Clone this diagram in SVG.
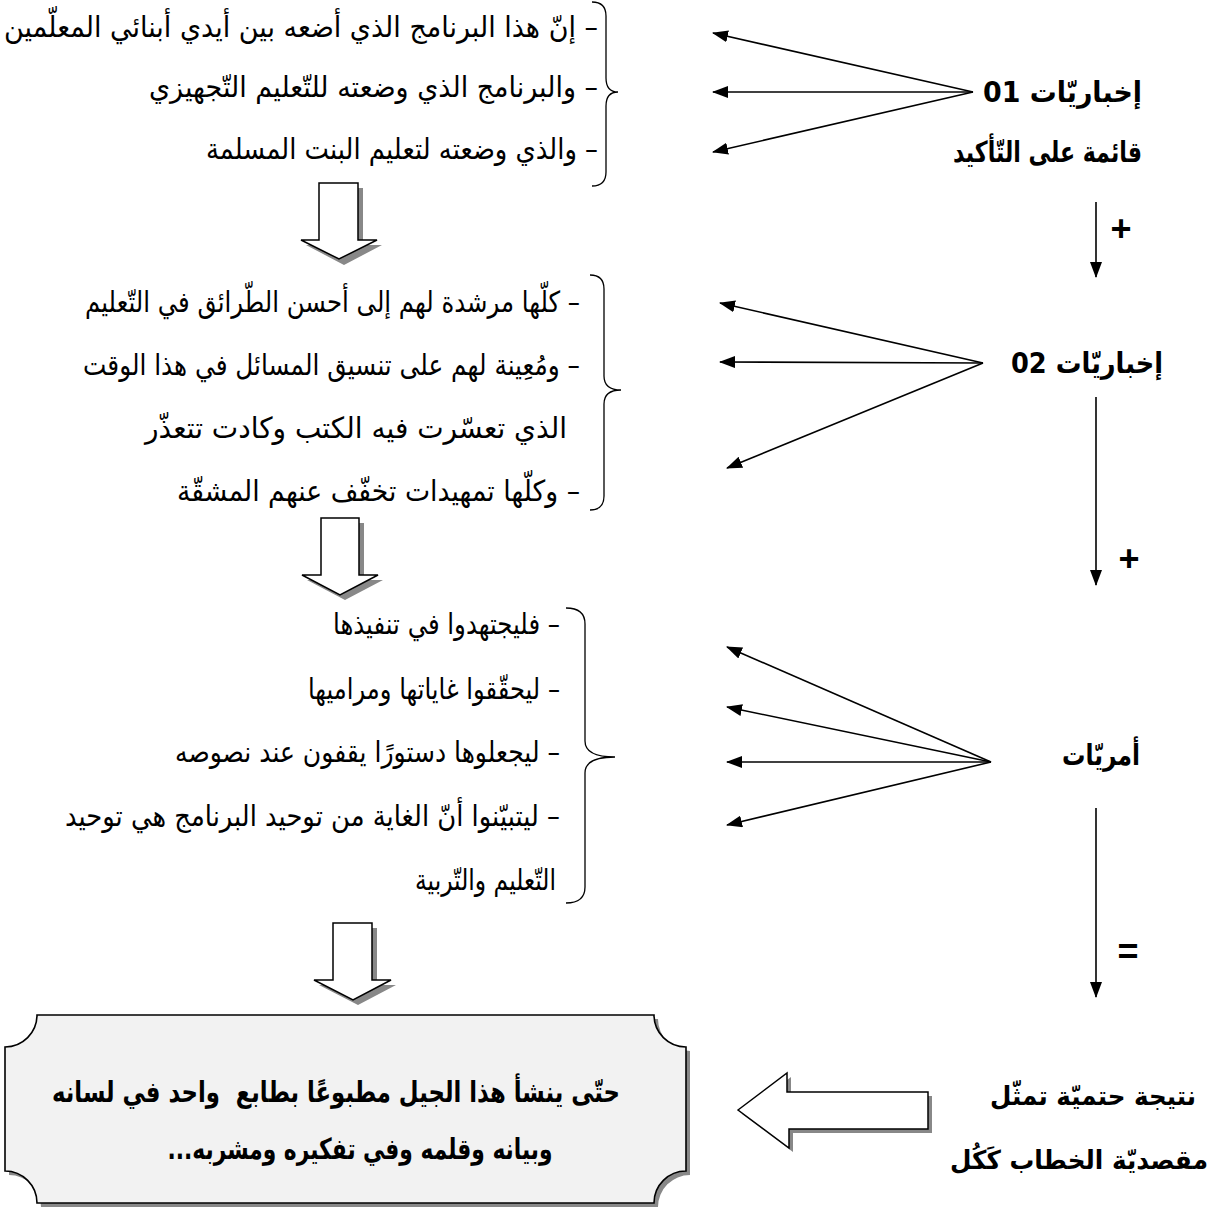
<svg xmlns="http://www.w3.org/2000/svg" width="1220" height="1209" viewBox="0 0 1220 1209">
<defs>
<marker id="ah" viewBox="0 0 16 12" refX="15" refY="6" markerWidth="16" markerHeight="12" markerUnits="userSpaceOnUse" orient="auto">
<path d="M0,0 L16,6 L0,12 Z" fill="#000"/>
</marker>
</defs>
<style>
.t{font-family:"DejaVu Sans",sans-serif;font-size:29px;fill:#000;direction:rtl;text-anchor:start}
.b{font-family:"DejaVu Sans",sans-serif;font-size:29px;font-weight:bold;fill:#000;direction:rtl;text-anchor:start}
.bs{font-family:"DejaVu Sans",sans-serif;font-size:26px;font-weight:bold;fill:#000;direction:rtl;text-anchor:start}
.bc{font-family:"DejaVu Sans",sans-serif;font-size:29px;font-weight:bold;fill:#000;direction:rtl;text-anchor:middle}
.sym{font-family:"Liberation Sans",sans-serif;font-size:36px;font-weight:bold;fill:#000;text-anchor:middle}
.br{fill:none;stroke:#000;stroke-width:1.3}
.ln{fill:none;stroke:#000;stroke-width:1.6;marker-end:url(#ah)}
.sh{fill:#888;stroke:none}
.ba{fill:#fff;stroke:#000;stroke-width:1.5}
</style>
<rect width="1220" height="1209" fill="#fff"/>

<g id="section1">
<text class="t" x="598" y="37" textLength="594" lengthAdjust="spacingAndGlyphs">– إنّ هذا البرنامج الذي أضعه بين أيدي أبنائي المعلّمين</text>
<text class="t" x="598" y="97" textLength="449" lengthAdjust="spacingAndGlyphs">– والبرنامج الذي وضعته للتّعليم التّجهيزي</text>
<text class="t" x="598" y="159" textLength="392" lengthAdjust="spacingAndGlyphs">– والذي وضعته لتعليم البنت المسلمة</text>
<path class="br" d="M592,2 Q606,2 606,16 L606,78 Q606,92 618,92 Q606,92 606,106 L606,172 Q606,186 592,186"/>
</g>

<g id="section2">
<text class="t" x="580" y="312" textLength="495" lengthAdjust="spacingAndGlyphs">– كلّها مرشدة لهم إلى أحسن الطّرائق في التّعليم</text>
<text class="t" x="580" y="375" textLength="497" lengthAdjust="spacingAndGlyphs">– ومُعِينة لهم على تنسيق المسائل في هذا الوقت</text>
<text class="t" x="567" y="438" textLength="422" lengthAdjust="spacingAndGlyphs">الذي تعسّرت فيه الكتب وكادت تتعذّر</text>
<text class="t" x="580" y="501" textLength="403" lengthAdjust="spacingAndGlyphs">– وكلّها تمهيدات تخفّف عنهم المشقّة</text>
<path class="br" d="M590,275 Q604,275 604,289 L604,376 Q604,390 621,390 Q604,390 604,404 L604,496 Q604,510 590,510"/>
</g>

<g id="section3">
<text class="t" x="560" y="634" textLength="227" lengthAdjust="spacingAndGlyphs">– فليجتهدوا في تنفيذها</text>
<text class="t" x="560" y="699" textLength="252" lengthAdjust="spacingAndGlyphs">– ليحقّقوا غاياتها ومراميها</text>
<text class="t" x="560" y="762" textLength="385" lengthAdjust="spacingAndGlyphs">– ليجعلوها دستورًا يقفون عند نصوصه</text>
<text class="t" x="560" y="826" textLength="495" lengthAdjust="spacingAndGlyphs">– ليتبيّنوا أنّ الغاية من توحيد البرنامج هي توحيد</text>
<text class="t" x="556" y="890" textLength="141" lengthAdjust="spacingAndGlyphs">التّعليم والتّربية</text>
<path class="br" d="M566,608 Q585,608 585,624 L585,741 Q585,757 615,757 Q585,757 585,773 L585,887 Q585,903 566,903"/>
</g>

<g id="label-ikhbariyat-01">
<text class="b" x="1142" y="102" textLength="159" lengthAdjust="spacingAndGlyphs">إخباريّات 01</text>
<text class="b" x="1142" y="162" textLength="189" lengthAdjust="spacingAndGlyphs">قائمة على التّأكيد</text>
</g>
<g id="label-ikhbariyat-02">
<text class="b" x="1163" y="373" textLength="152" lengthAdjust="spacingAndGlyphs">إخباريّات 02</text>
</g>
<g id="label-amriyat">
<text class="b" x="1140" y="765" textLength="78" lengthAdjust="spacingAndGlyphs">أمريّات</text>
</g>
<g id="label-result">
<text class="bs" x="1196" y="1105" textLength="206" lengthAdjust="spacingAndGlyphs">نتيجة حتميّة تمثّل</text>
<text class="bs" x="1208" y="1169" textLength="258" lengthAdjust="spacingAndGlyphs">مقصديّة الخطاب كَكُل</text>
</g>

<g id="result-box">
<path class="sh" d="M41,1019 L658,1019 A32,32 0 0 0 690,1051 L690,1175 A32,32 0 0 0 658,1207 L41,1207 A32,32 0 0 0 9,1175 L9,1051 A32,32 0 0 0 41,1019 Z"/>
<path d="M37,1015 L654,1015 A32,32 0 0 0 686,1047 L686,1171 A32,32 0 0 0 654,1203 L37,1203 A32,32 0 0 0 5,1171 L5,1047 A32,32 0 0 0 37,1015 Z" fill="#f2f2f2" stroke="#000" stroke-width="1.6"/>
<text class="bc" x="336" y="1102" textLength="568" lengthAdjust="spacingAndGlyphs" xml:space="preserve">حتّى ينشأ هذا الجيل مطبوعًا بطابع  واحد في لسانه</text>
<text class="bc" x="360" y="1159" textLength="385" lengthAdjust="spacingAndGlyphs">وبيانه وقلمه وفي تفكيره ومشربه...</text>
</g>

<g id="connectors">
<line class="ln" x1="973" y1="92" x2="713" y2="33"/>
<line class="ln" x1="973" y1="92" x2="713" y2="92"/>
<line class="ln" x1="973" y1="92" x2="713" y2="152"/>

<line class="ln" x1="983" y1="363" x2="720" y2="303"/>
<line class="ln" x1="983" y1="363" x2="720" y2="362"/>
<line class="ln" x1="983" y1="363" x2="727" y2="468"/>

<line class="ln" x1="991" y1="762" x2="727" y2="647"/>
<line class="ln" x1="991" y1="762" x2="727" y2="707"/>
<line class="ln" x1="991" y1="762" x2="727" y2="762"/>
<line class="ln" x1="991" y1="762" x2="727" y2="825"/>

<line class="ln" x1="1096" y1="202" x2="1096" y2="277"/>
<line class="ln" x1="1096" y1="397" x2="1096" y2="585"/>
<line class="ln" x1="1096" y1="808" x2="1096" y2="997"/>
<text class="sym" x="1121" y="241">+</text>
<text class="sym" x="1129" y="571">+</text>
<text class="sym" x="1128" y="964">=</text>

<polygon class="sh" points="324,188 363,188 363,245 382,245 344,265 306,245 324,245"/>
<polygon class="ba" points="319,183 358,183 358,240 377,240 339,259 301,240 319,240"/>

<polygon class="sh" points="326,523 364,523 364,580 383,580 345,600 307,580 326,580"/>
<polygon class="ba" points="321,518 359,518 359,575 378,575 340,595 302,575 321,575"/>

<polygon class="sh" points="338,928 377,928 377,985 396,985 358,1005 319,985 338,985"/>
<polygon class="ba" points="333,923 372,923 372,980 391,980 353,1000 314,980 333,980"/>

<polygon class="sh" points="742,1114 791,1077 791,1096 932,1096 932,1133 793,1133 793,1152"/>
<polygon class="ba" points="738,1110 787,1073 787,1092 928,1092 928,1129 789,1129 789,1148"/>
</g>
</svg>
